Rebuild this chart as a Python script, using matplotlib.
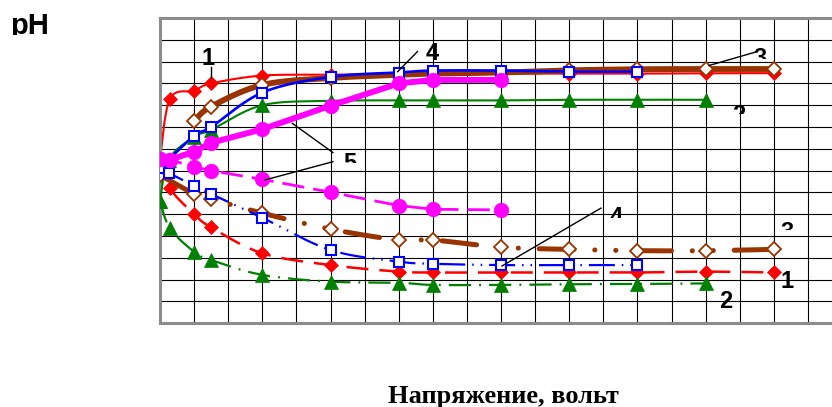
import numpy as np
import matplotlib
matplotlib.use("Agg")
import matplotlib.pyplot as plt
from matplotlib.transforms import Bbox, TransformedBbox

plt.rcParams['lines.scale_dashes'] = False

# ---------------- data (x: voltage grid units, y: pH) ----------------
volt_red_up = [0, 0.29, 1, 1.5, 3, 5, 7, 8, 10, 12, 14, 16, 18]
ph_red_up = [7.5, 10.29, 10.67, 11.0, 11.36, 11.4, 11.43, 11.45, 11.45, 11.45, 11.45, 11.47, 11.47]
volt_red_dn = [0, 0.29, 1, 1.5, 3, 5, 7, 8, 10, 12, 14, 16, 18]
ph_red_dn = [7.5, 6.19, 5.01, 4.4, 3.21, 2.67, 2.37, 2.33, 2.33, 2.33, 2.33, 2.37, 2.33]

volt_green_up = [0, 0.25, 1, 1.5, 3, 5, 7, 8, 10, 12, 14, 16]
ph_green_up = [5.6, 7.5, 8.55, 8.87, 10.0, 10.2, 10.22, 10.22, 10.22, 10.25, 10.25, 10.25]
volt_green_dn = [0, 0.29, 1, 1.5, 3, 5, 7, 8, 10, 12, 14, 16]
ph_green_dn = [5.6, 4.36, 3.28, 2.9, 2.22, 1.91, 1.86, 1.76, 1.76, 1.79, 1.8, 1.83]

volt_brown_up = [1, 1.5, 3, 5, 7, 8, 10, 12, 14, 16, 18]
ph_brown_up = [9.28, 9.94, 10.93, 11.25, 11.39, 11.45, 11.5, 11.6, 11.65, 11.66, 11.66]
volt_brown_dn = [0, 1, 1.5, 3, 5, 7, 8, 10, 12, 14, 16, 18]
ph_brown_dn = [6.8, 5.94, 5.7, 5.05, 4.32, 3.82, 3.82, 3.49, 3.39, 3.33, 3.33, 3.39]

volt_blue_up = [0, 1, 1.5, 3, 5, 7, 8, 10, 12, 14]
ph_blue_up = [7.11, 8.6, 9.0, 10.58, 11.3, 11.5, 11.59, 11.59, 11.54, 11.54]
volt_blue_dn = [0, 0.27, 1, 1.5, 3, 5, 7, 8, 10, 12, 14]
ph_blue_dn = [7.11, 6.88, 6.31, 5.93, 4.84, 3.36, 2.83, 2.73, 2.67, 2.67, 2.67]

volt_mag_up = [0, 0.29, 1, 1.5, 3, 5, 7, 8, 10]
ph_mag_up = [7.55, 7.5, 7.87, 8.28, 8.9, 9.98, 11.0, 11.16, 11.16]
volt_mag_dn = [0, 0.29, 1, 1.5, 3, 5, 7, 8, 10]
ph_mag_dn = [7.55, 7.5, 7.18, 7.0, 6.6, 6.01, 5.4, 5.23, 5.2]

# curve labels: (text, x, baseline y, clip-bottom y or None)
labels = [("1", 1.40, 11.85, None), ("4", 7.99, 12.08, None),
          ("3", 17.61, 11.83, 12.12), ("2", 16.97, 9.23, 9.62),
          ("5", 5.56, 7.05, 7.34), ("4", 13.39, 4.57, 4.82),
          ("3", 18.40, 3.88, 4.28), ("1", 18.38, 1.61, None),
          ("2", 16.60, 0.72, None)]
leaders = [((1.49, 11.77), (1.49, 11.24)), ((6.97, 11.54), (7.55, 12.46)),
           ((16.10, 11.82), (17.51, 12.46)), ((3.88, 9.17), (5.07, 7.83)),
           ((3.07, 6.57), (5.07, 7.41)), ((10.03, 2.63), (12.93, 5.28))]

xlabel = "Напряжение, вольт"
ylabel = "pH"

# ---------------- drawing helpers ----------------
def smooth(x, y, n=24):
    pts = np.column_stack([x, y]).astype(float)
    out = [pts[0]]
    t = np.linspace(0, 1, n)[1:, None]
    for i in range(len(pts) - 1):
        p0 = pts[i - 1] if i > 0 else pts[i]
        p1, p2 = pts[i], pts[i + 1]
        p3 = pts[i + 2] if i + 2 < len(pts) else pts[i + 1]
        c1 = p1 + (p2 - p0) / 6.0
        c2 = p2 - (p3 - p1) / 6.0
        seg = (1 - t) ** 3 * p1 + 3 * (1 - t) ** 2 * t * c1 + 3 * (1 - t) * t ** 2 * c2 + t ** 3 * p2
        out.extend(seg)
    out = np.array(out)
    return out[:, 0], out[:, 1]

W, H = 832, 407
fig = plt.figure(figsize=(W / 100, H / 100), dpi=100)
ax = fig.add_axes([160 / W, (H - 323.3) / H, (842 - 160) / W, (323.3 - 18) / H])
ax.set_xlim(0, 20)
ax.set_ylim(0, 14)
ax.set_xticks(np.arange(0, 21, 1))
ax.set_yticks(np.arange(0, 15, 1))
ax.tick_params(length=0, labelbottom=False, labelleft=False)
ax.grid(True, color='black', lw=0.8)
ax.set_axisbelow(True)
for s in ax.spines.values():
    s.set_color('#8c8c8c')
    s.set_linewidth(2.2)

red, green, brown, blue, mag = '#FF0000', '#008000', '#993300', '#0000FF', '#FF00FF'

def series(x, y, color, lw, ls, z, marker, ms, mfc, mew, smooth_it=True, capstyle='butt'):
    if smooth_it:
        sx, sy = smooth(x, y)
    else:
        sx, sy = x, y
    ax.plot(sx, sy, color=color, lw=lw, ls=ls, zorder=z,
            dash_capstyle=capstyle, solid_capstyle='round', solid_joinstyle='round')
    ax.plot(x, y, ls='none', marker=marker, ms=ms, mfc=mfc, mec=color, mew=mew, zorder=z + 0.5)

# red
series(volt_red_up, ph_red_up, red, 1.5, '-', 2, 'D', 6.8, red, 0.5)
series(volt_red_dn, ph_red_dn, red, 1.8, (0, (15.8, 7.9)), 2, 'D', 6.8, red, 0.5)
# green
series(volt_green_up, ph_green_up, green, 1.5, '-', 3, '^', 10.5, green, 0.5)
series(volt_green_dn, ph_green_dn, green, 1.6, (0, (16, 5.8, 1.4, 5.8)), 3, '^', 10.5, green, 0.5)
# brown
series(volt_brown_up, ph_brown_up, brown, 4.2, '-', 4, 'D', 7.2, 'white', 1.3)
series(volt_brown_dn, ph_brown_dn, brown, 3.6, (0, (25, 15, 0.1, 15, 0.1, 15)), 4, 'D', 7.2, 'white', 1.3,
       capstyle='round')
# blue
series(volt_blue_up, ph_blue_up, blue, 1.9, '-', 5, 's', 7.5, 'white', 1.5)
series(volt_blue_dn, ph_blue_dn, blue, 1.6, (0, (18.7, 5, 1.1, 5, 1.1, 5)), 5, 's', 7.5, 'white', 1.5)
# magenta
series(volt_mag_up, ph_mag_up, mag, 4.3, '-', 6, 'o', 10.5, mag, 0.5, smooth_it=False)
series(volt_mag_dn, ph_mag_dn, mag, 2.0, (0, (16, 6.5)), 6, 'o', 10.5, mag, 0.5, smooth_it=False)

for (x0, y0), (x1, y1) in leaders:
    ax.plot([x0, x1], [y0, y1], color='black', lw=1.0, zorder=8)

for txt, x, y, clip in labels:
    t = ax.text(x, y, txt, ha='center', va='baseline', fontsize=17, fontweight='bold',
                family='Liberation Sans', zorder=9)
    if clip is not None:
        t.set_clip_box(TransformedBbox(Bbox.from_extents(-5, clip, 25, 20), ax.transData))
        t.set_clip_on(True)
    else:
        t.set_clip_on(False)

tp = fig.text(10 / W, (H - 34) / H, ylabel, ha='left', va='baseline', fontsize=21,
              fontweight='bold', family='Liberation Sans')
tp.set_clip_box(TransformedBbox(Bbox.from_extents(0, (H - 35) / H, 1, 1), fig.transFigure))
tp.set_clip_on(True)

fig.text(503 / W, (H - 403) / H, xlabel, ha='center', va='baseline', fontsize=19,
         fontweight='bold', family='Liberation Serif')

fig.savefig('out.png', dpi=100)
